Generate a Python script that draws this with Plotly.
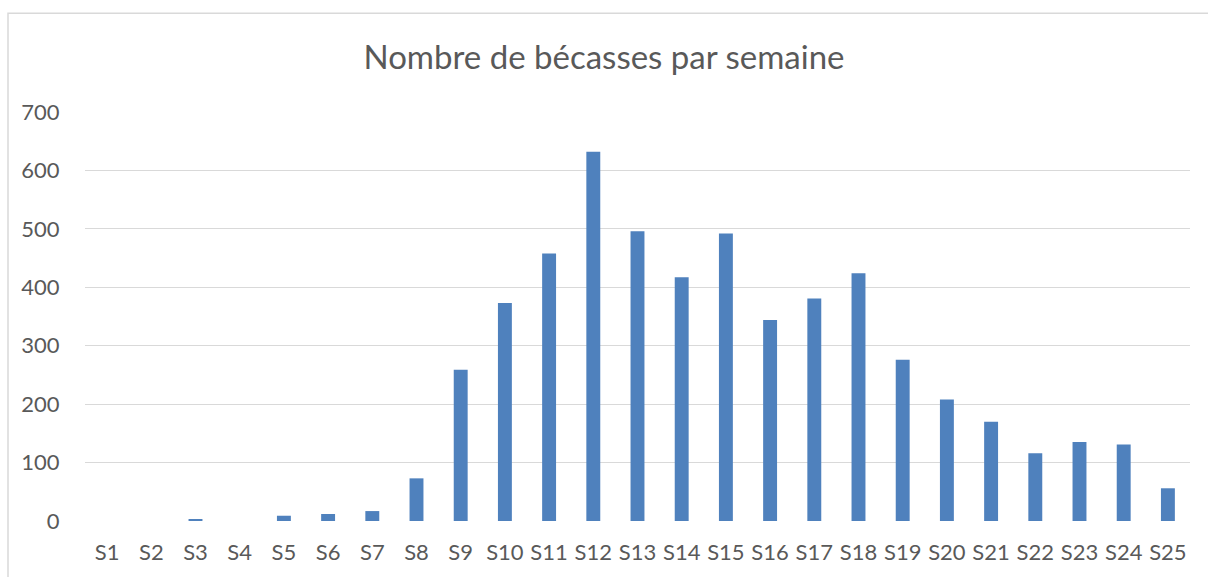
import plotly.graph_objects as go

weeks = [f"S{i}" for i in range(1, 26)]
counts = [0, 0, 2, 0, 9, 12, 17, 73, 259, 373, 458, 632, 496, 417, 492, 344, 381, 424, 276, 208, 170, 116, 135, 131, 56]
y_ticks = [0, 100, 200, 300, 400, 500, 600, 700]

W, H = 1208, 577
ml, mr, mt, mb = 85, 18, 112, 51
pw, ph = W - ml - mr, H - mt - mb

fig = go.Figure(go.Bar(x=weeks, y=counts, marker=dict(color="#4F81BD", line=dict(width=0)),
                       hoverinfo="x+y"))

font_fam = "Lato, 'Open Sans', sans-serif"
fig.update_layout(
    width=W, height=H,
    margin=dict(l=ml, r=mr, t=mt, b=mb),
    paper_bgcolor="white", plot_bgcolor="white",
    bargap=0.685,
    showlegend=False,
    title=dict(text="Nombre de bécasses par semaine", x=0.5, xref="container", xanchor="center",
               y=1 - 57 / H, yref="container", yanchor="middle",
               font=dict(family=font_fam, size=33, color="#595959")),
    font=dict(family=font_fam, color="#595959"),
)
fig.update_xaxes(type="category", showgrid=False, showline=False, zeroline=False,
                 ticks="outside", ticklen=12, tickcolor="rgba(0,0,0,0)",
                 tickfont=dict(size=22, color="#595959"), range=[-0.5, 24.5])
fig.update_yaxes(range=[0, 700], tickvals=y_ticks, showgrid=True, gridcolor="#D9D9D9", gridwidth=1.3,
                 zeroline=False, showline=False,
                 ticks="outside", ticklen=20, tickcolor="rgba(0,0,0,0)",
                 tickfont=dict(size=22, color="#595959"))

# outer chart border
fig.add_shape(type="rect", xref="paper", yref="paper",
              x0=(8 - ml) / pw, x1=(W + 10 - ml) / pw,
              y0=(mt + ph - (H + 10)) / ph, y1=(mt + ph - 12) / ph,
              line=dict(color="#D9D9D9", width=1.5), fillcolor="rgba(0,0,0,0)", layer="below")

fig.write_html("out.html", config={"displayModeBar": False},
               post_script="document.body.style.margin='0';document.body.style.overflow='hidden';")
